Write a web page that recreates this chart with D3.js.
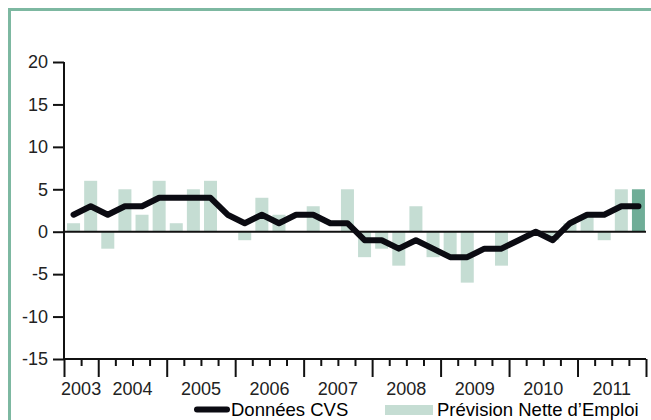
<!DOCTYPE html>
<html>
<head>
<meta charset="utf-8">
<script src="https://cdn.jsdelivr.net/npm/d3@7"></script>
<style>
  body { margin: 0; background: #fff; }
  svg { display: block; font-family: "Liberation Sans", Arial, sans-serif; }
</style>
</head>
<body>
<svg id="chart" width="651" height="420"></svg>
<script>
// quarters from 2003 Q3 to 2011 Q4
var years = ["2003", "2004", "2005", "2006", "2007", "2008", "2009", "2010", "2011"];
var yearStart = [0, 2, 6, 10, 14, 18, 22, 26, 30, 34]; // quarter index where each year begins
var prevision = [1, 6, -2, 5, 2, 6, 1, 5, 6, 0, -1, 4, 2, 0, 3, 0, 5, -3, -2, -4, 3, -3, -3, -6, 0, -4, 0, 0, -1, 1, 2, -1, 5, 5];
var cvs = [2, 3, 2, 3, 3, 4, 4, 4, 4, 2, 1, 2, 1, 2, 2, 1, 1, -1, -1, -2, -1, -2, -3, -3, -2, -2, -1, 0, -1, 1, 2, 2, 3, 3];
var yTicks = [-15, -10, -5, 0, 5, 10, 15, 20];

var svg = d3.select("#chart");
var plotLeft = 64, plotRight = 646, plotTop = 62, plotBottom = 359;

// green frame
svg.append("path")
    .attr("d", "M9.5,430 L9.5,9.5 L660,9.5")
    .attr("fill", "none")
    .attr("stroke", "#7db8a1")
    .attr("stroke-width", 3);

var x = d3.scaleBand().domain(d3.range(prevision.length)).range([plotLeft, plotRight]).paddingInner(0.24).paddingOuter(0.12);
var xq = d3.scaleLinear().domain([0, prevision.length]).range([plotLeft, plotRight]);
var y = d3.scaleLinear().domain([-15, 20]).range([plotBottom, plotTop]);

// bars
svg.selectAll("rect.bar").data(prevision).enter()
    .append("rect")
    .attr("class", "bar")
    .attr("x", function(d, i) { return x(i) + 1 })
    .attr("width", x.bandwidth())
    .attr("y", function(d) { return y(Math.max(0, d)) })
    .attr("height", function(d) { return Math.abs(y(d) - y(0)) })
    .attr("fill", function(d, i) { return i == prevision.length - 1 ? "#6fad97" : "#c5ddd3" });

// zero line
svg.append("line")
    .attr("x1", plotLeft).attr("x2", plotRight)
    .attr("y1", y(0)).attr("y2", y(0))
    .attr("stroke", "#111").attr("stroke-width", 2);

// y axis
var yAxis = svg.append("g")
    .attr("transform", "translate(" + plotLeft + ",0)")
    .call(d3.axisLeft(y).tickValues(yTicks).tickSize(11).tickPadding(5).tickFormat(function(d) { return String(d) }));
yAxis.select(".domain").attr("stroke", "#111").attr("stroke-width", 2).attr("d", "M0," + plotTop + "V" + plotBottom);
yAxis.selectAll(".tick line").attr("stroke", "#111").attr("stroke-width", 2);
yAxis.selectAll("text").attr("font-size", 18).attr("fill", "#222").attr("font-family", "Liberation Sans, Arial, sans-serif");

// x axis: quarter ticks, longer at year boundaries
var xAxis = svg.append("g")
    .attr("transform", "translate(0," + plotBottom + ")")
    .call(d3.axisBottom(xq).tickValues(d3.range(prevision.length + 1)).tickSize(7).tickFormat(""));
xAxis.select(".domain").attr("stroke", "#111").attr("stroke-width", 2).attr("d", "M" + plotLeft + ",0H" + plotRight);
xAxis.selectAll(".tick line")
    .attr("stroke", "#111").attr("stroke-width", 2)
    .attr("y2", function(d) { return yearStart.indexOf(d) >= 0 ? 18 : 7 });

svg.selectAll("text.year").data(years).enter()
    .append("text")
    .attr("class", "year")
    .attr("x", function(d, i) { return xq((yearStart[i] + yearStart[i + 1]) / 2) })
    .attr("y", 395)
    .attr("text-anchor", "middle")
    .attr("font-size", 18)
    .attr("fill", "#222")
    .text(function(d) { return d });

// CVS line
var line = d3.line()
    .x(function(d, i) { return x(i) + x.bandwidth() / 2 + 1 })
    .y(function(d) { return y(d) });
svg.append("path")
    .datum(cvs)
    .attr("d", line)
    .attr("fill", "none")
    .attr("stroke", "#0b0b12")
    .attr("stroke-width", 6)
    .attr("stroke-linejoin", "round")
    .attr("stroke-linecap", "round");

// legend
var legend = svg.append("g");
legend.append("line")
    .attr("x1", 197).attr("x2", 227).attr("y1", 409.5).attr("y2", 409.5)
    .attr("stroke", "#0b0b12").attr("stroke-width", 6).attr("stroke-linecap", "round");
legend.append("text")
    .attr("x", 231).attr("y", 416)
    .attr("font-size", 18.5).attr("fill", "#000")
    .text("Données CVS");
legend.append("rect")
    .attr("x", 385).attr("y", 405).attr("width", 48).attr("height", 10)
    .attr("fill", "#c5ddd3");
legend.append("text")
    .attr("x", 437).attr("y", 416)
    .attr("font-size", 18.5).attr("fill", "#000")
    .text("Prévision Nette d’Emploi");
</script>
</body>
</html>
